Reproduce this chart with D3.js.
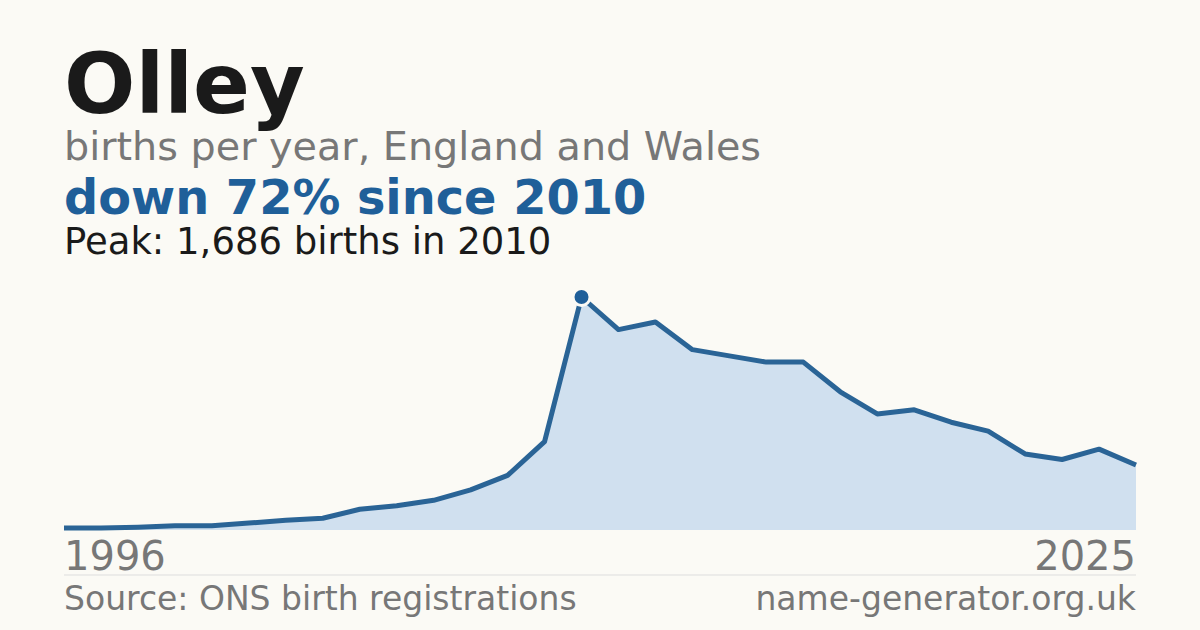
<!DOCTYPE html>
<html><head><meta charset="utf-8">
<script src="https://cdn.jsdelivr.net/npm/d3@7"></script>
<style>body{margin:0;background:#fbfaf5;}svg{display:block;font-family:"DejaVu Sans",sans-serif;}</style>
</head><body>
<script>
const years = d3.range(1996, 2026);
const births = [15, 15, 20, 30, 30, 50, 70, 85, 150, 175, 215, 290, 395, 640, 1686,
	1450, 1505, 1305, 1260, 1215, 1215, 1000, 840, 870, 780, 715, 550, 510, 585, 470];
const data = years.map((y, i) => ({ year: y, value: births[i] }));

const width = 1200, height = 630;
const svg = d3.select('body').append('svg').attr('width', width).attr('height', height);
svg.append('rect').attr('width', width).attr('height', height).attr('fill', '#fbfaf5');

const x = d3.scaleLinear().domain([1996, 2025]).range([64, 1136]);
const y = d3.scaleLinear().domain([0, 1686]).range([530, 297]);

// Titles
svg.append('text').attr('x', 64).attr('y', 113).attr('font-size', 84).attr('font-weight', 'bold').attr('fill', '#1a1a1a').text('Olley');
svg.append('text').attr('x', 64).attr('y', 160).attr('font-size', 39.7).attr('fill', '#777').text('births per year, England and Wales');
svg.append('text').attr('x', 64).attr('y', 214).attr('font-size', 47.8).attr('font-weight', 'bold').attr('fill', '#1f5f99').text('down 72% since 2010');
svg.append('text').attr('x', 64).attr('y', 254).attr('font-size', 37).attr('fill', '#1a1a1a').text('Peak: 1,686 births in 2010');

// Area and line
svg.append('path').datum(data)
	.attr('d', d3.area().x((d) => x(d.year)).y0(y(0)).y1((d) => y(d.value)))
	.attr('fill', '#d0e0ef');
svg.append('path').datum(data)
	.attr('d', d3.line().x((d) => x(d.year)).y((d) => y(d.value)))
	.attr('fill', 'none').attr('stroke', '#2a6496').attr('stroke-width', 5).attr('stroke-linejoin', 'round');

const peak = data[births.indexOf(d3.max(births))];
svg.append('circle').attr('cx', x(peak.year)).attr('cy', y(peak.value)).attr('r', 8.5)
	.attr('fill', '#1f5f99').attr('stroke', '#fbfaf5').attr('stroke-width', 3);

// Axis labels
svg.append('text').attr('x', 64).attr('y', 570).attr('font-size', 40).attr('fill', '#777').text(years[0]);
svg.append('text').attr('x', 1136).attr('y', 570).attr('font-size', 40).attr('fill', '#777').attr('text-anchor', 'end').text(years[years.length - 1]);
svg.append('line').attr('x1', 64).attr('x2', 1136).attr('y1', 575).attr('y2', 575).attr('stroke', '#ddd').attr('stroke-width', 1);

// Footer
svg.append('text').attr('x', 64).attr('y', 610).attr('font-size', 33).attr('fill', '#777').text('Source: ONS birth registrations');
svg.append('text').attr('x', 1136).attr('y', 610).attr('font-size', 33).attr('fill', '#777').attr('text-anchor', 'end').text('name-generator.org.uk');
</script>
</body></html>
